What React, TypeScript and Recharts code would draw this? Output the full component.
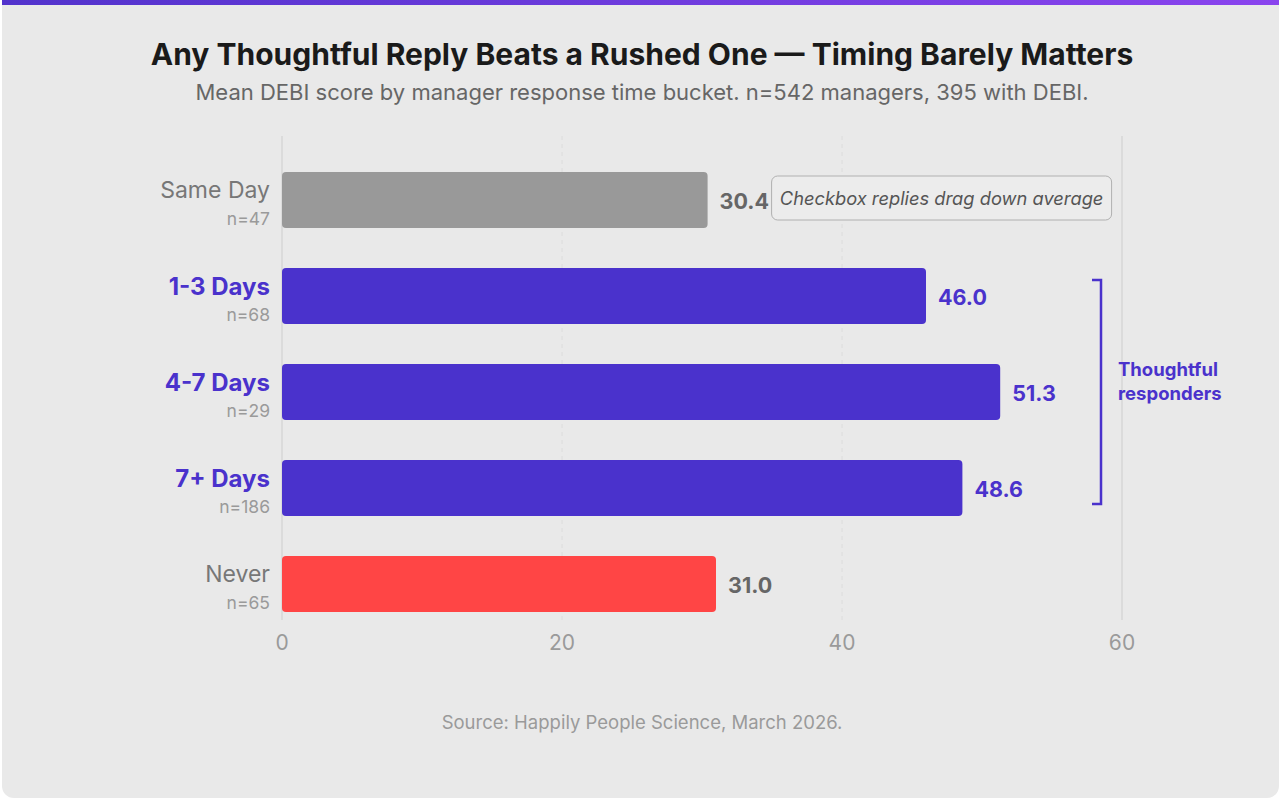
import React from 'react'
import { BarChart, Bar, XAxis, YAxis, CartesianGrid, LabelList, Cell } from 'recharts'

const categories = ['Same Day', '1-3 Days', '4-7 Days', '7+ Days', 'Never']
const counts = [47, 68, 29, 186, 65]
const scores = [30.4, 46.0, 51.3, 48.6, 31.0]
const groups = ['rushed', 'thoughtful', 'thoughtful', 'thoughtful', 'never']
const xDomain = [0, 60]
const xTicks = [0, 20, 40, 60]
const edgeTicks = [0, 60]
const midTicks = [20, 40]
const noteText = 'Checkbox replies drag down average'
const bracketAt = 58.5

const FONT = 'Inter, "Noto Sans", sans-serif'
const PURPLE = '#4a32cc'

const barColor = (g: string) => (g === 'thoughtful' ? PURPLE : g === 'never' ? '#ff4545' : '#999999')
const valueColor = (g: string) => (g === 'thoughtful' ? PURPLE : '#666666')

const data = categories.map((name, i) => ({ name, n: counts[i], score: scores[i], group: groups[i] }))

function CategoryTick(props: any) {
  const { x, y, payload } = props
  const i = categories.indexOf(payload.value)
  const thoughtful = groups[i] === 'thoughtful'
  return (
    <g>
      <text
        x={x - 4}
        y={y - 8}
        textAnchor="end"
        dominantBaseline="middle"
        fontSize={thoughtful ? 24 : 23}
        fontWeight={thoughtful ? 700 : 400}
        fill={thoughtful ? PURPLE : '#777777'}
        fontFamily={FONT}
      >
        {payload.value}
      </text>
      <text x={x - 4} y={y + 20} textAnchor="end" dominantBaseline="middle" fontSize={17.5} fill="#9a9a9a" fontFamily={FONT}>
        n={counts[i]}
      </text>
    </g>
  )
}

function ValueLabel(props: any) {
  const { x, y, width, height, index } = props
  const g = groups[index]
  const cy = y + height / 2
  const end = x + width
  const ppu = width / scores[index]
  const bx = x + bracketAt * ppu
  return (
    <g>
      <text
        x={end + 12}
        y={cy + 3}
        dominantBaseline="middle"
        fontSize={21.5}
        fontWeight={700}
        fill={valueColor(g)}
        fontFamily={FONT}
      >
        {scores[index].toFixed(1)}
      </text>
      {index === 0 && (
        <g>
          <rect x={end + 64} y={cy - 24} width={340} height={44} rx={6} fill="#ececec" stroke="#b0b0b0" strokeWidth={1} />
          <text
            x={end + 64 + 170}
            y={cy}
            textAnchor="middle"
            dominantBaseline="middle"
            fontSize={18.3}
            fontStyle="italic"
            fill="#555555"
            fontFamily={FONT}
          >
            {noteText}
          </text>
        </g>
      )}
      {g === 'thoughtful' && (
        <g stroke={PURPLE} strokeWidth={2.5} fill="none">
          {index === 1 && <path d={`M${bx - 9},${y + 12} H${bx} V${y + height + 20}`} />}
          {index === 2 && <path d={`M${bx},${y - 20} V${y + height + 20}`} />}
          {index === 3 && <path d={`M${bx},${y - 20} V${y + height - 12} H${bx - 9}`} />}
        </g>
      )}
      {index === 2 && (
        <text x={bx + 17} fontSize={18.5} fontWeight={700} fill={PURPLE} fontFamily={FONT} dominantBaseline="middle">
          <tspan x={bx + 17} y={cy - 21}>Thoughtful</tspan>
          <tspan x={bx + 17} y={cy + 3}>responders</tspan>
        </text>
      )}
    </g>
  )
}

// grid positions from the x axis scale, or from the plot offset if no scale is handed over
const gridAt = (vals: number[]) => (args: any) => {
  const s = args?.xAxis?.scale
  if (typeof s === 'function') return vals.map((v) => s(v))
  const { left, width } = args.offset
  return vals.map((v) => left + ((v - xDomain[0]) / (xDomain[1] - xDomain[0])) * width)
}

export default function App() {
  return (
    <div style={{ position: 'absolute', left: 0, top: 0, width: 1281, height: 800, background: '#ffffff', fontFamily: FONT }}>
      <div
        style={{
          position: 'absolute',
          left: 2,
          top: 0,
          width: 1277,
          height: 798,
          background: '#e9e9e9',
          borderRadius: '0 0 12px 12px',
          overflow: 'hidden',
        }}
      >
        <div style={{ height: 5, background: 'linear-gradient(90deg, #5233cc, #8a44ee)' }} />
      </div>
      <div
        style={{
          position: 'absolute',
          left: 0,
          top: 35,
          width: 1284,
          textAlign: 'center',
          fontSize: 30,
          fontWeight: 700,
          color: '#1a1a1a',
          lineHeight: '38px',
        }}
      >
        Any Thoughtful Reply Beats a Rushed One — Timing Barely Matters
      </div>
      <div
        style={{
          position: 'absolute',
          left: 0,
          top: 78,
          width: 1284,
          textAlign: 'center',
          fontSize: 22,
          color: '#666666',
          lineHeight: '28px',
        }}
      >
        Mean DEBI score by manager response time bucket. n=542 managers, 395 with DEBI.
      </div>
      <div style={{ position: 'absolute', left: 0, top: 0 }}>
        <BarChart
          width={1281}
          height={800}
          data={data}
          layout="vertical"
          margin={{ top: 136, right: 159, bottom: 150, left: 0 }}
          barSize={56}
        >
          <CartesianGrid
            horizontal={false}
            stroke="#d6d6d6"
            strokeWidth={1.5}
            verticalCoordinatesGenerator={gridAt(edgeTicks)}
          />
          <CartesianGrid
            horizontal={false}
            stroke="#dcdcdc"
            strokeWidth={1}
            strokeDasharray="4 4"
            verticalCoordinatesGenerator={gridAt(midTicks)}
          />
          <XAxis
            type="number"
            domain={xDomain}
            ticks={xTicks}
            axisLine={false}
            tickLine={false}
            tickMargin={9}
            tick={{ fontSize: 21, fill: '#9a9a9a', fontFamily: FONT }}
          />
          <YAxis
            type="category"
            dataKey="name"
            width={282}
            axisLine={false}
            tickLine={false}
            padding={{ top: 16, bottom: -12 }}
            tick={<CategoryTick />}
          />
          <Bar dataKey="score" radius={4} isAnimationActive={false}>
            {data.map((d) => (
              <Cell key={d.name} fill={barColor(d.group)} />
            ))}
            <LabelList dataKey="score" content={<ValueLabel />} />
          </Bar>
        </BarChart>
      </div>
      <div
        style={{
          position: 'absolute',
          left: 0,
          top: 710,
          width: 1284,
          textAlign: 'center',
          fontSize: 18.5,
          color: '#9a9a9a',
          lineHeight: '24px',
        }}
      >
        Source: Happily People Science, March 2026.
      </div>
    </div>
  )
}
